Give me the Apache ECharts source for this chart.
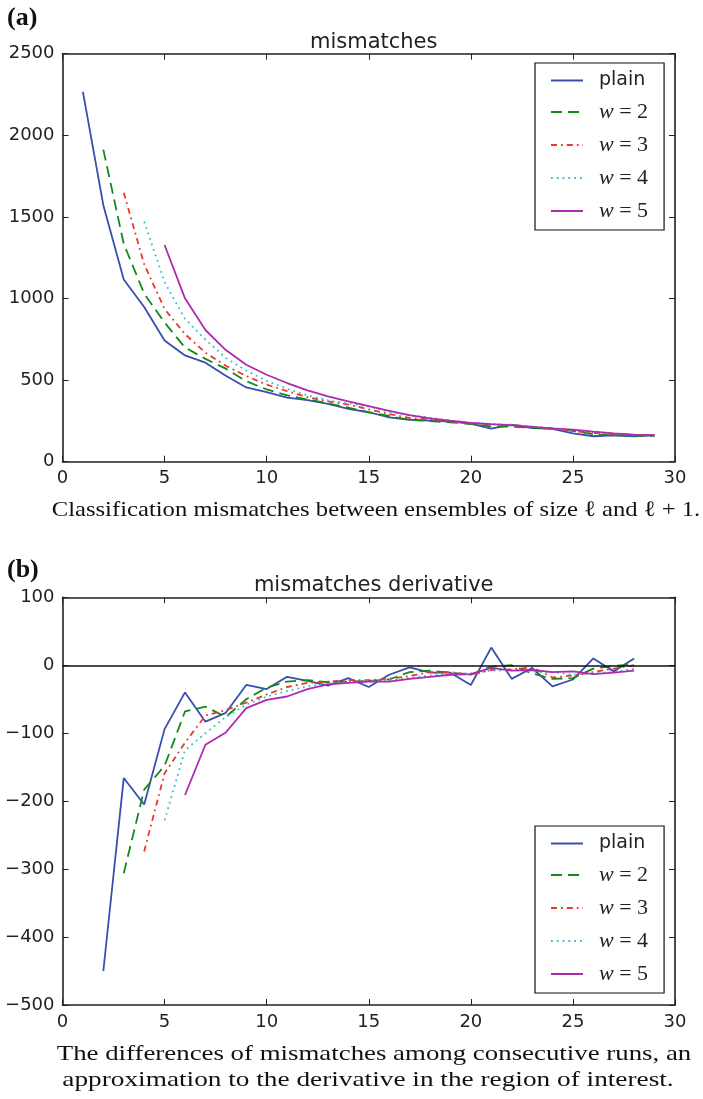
<!DOCTYPE html>
<html><head><meta charset="utf-8">
<script src="https://cdn.jsdelivr.net/npm/echarts@6/dist/echarts.min.js"></script>
<style>html,body{margin:0;padding:0;background:#fff}#c{width:703px;height:1099px}</style>
</head><body><div id="c"></div>
<script>
// ---- data ----
const seriesNames = ['plain', 'w=2', 'w=3', 'w=4', 'w=5'];
const xTicks = [0, 5, 10, 15, 20, 25, 30];

// (a) mismatches, first x of each series
const mismatchStart = [1, 2, 3, 4, 5];
const mismatchPlain = [2266, 1572, 1116, 948, 743, 651, 607, 527, 455, 427, 393, 377, 354, 324, 303, 272, 257, 252, 245, 234, 202, 227, 206, 201, 174, 156, 162, 156, 162];
const mismatchW2 = [1912, 1335, 1030, 852, 700, 630, 570, 493, 443, 407, 381, 358, 331, 303, 280, 256, 249, 241, 231, 216, 215, 208, 203, 189, 168, 162, 159, 159];
const mismatchW3 = [1648, 1210, 935, 782, 668, 588, 525, 472, 432, 396, 370, 350, 321, 292, 268, 260, 247, 235, 229, 225, 215, 202, 188, 176, 168, 164, 162];
const mismatchW4 = [1471, 1100, 875, 748, 636, 558, 495, 447, 407, 376, 357, 338, 306, 284, 270, 251, 239, 231, 225, 215, 202, 194, 182, 172, 164, 162];
const mismatchW5 = [1328, 1001, 807, 684, 594, 533, 482, 437, 400, 370, 341, 312, 286, 266, 251, 238, 230, 223, 214, 204, 196, 184, 174, 166, 162];

// (b) derivative, first x of each series
const derivStart = [2, 3, 4, 5, 6];
const derivPlain = [-450, -166, -205, -94, -40, -83, -70, -29, -35, -17, -23, -30, -19, -32, -14, -3, -11, -11, -29, 26, -20, -4, -31, -21, 10, -9, 10];
const derivW2 = [-306, -183, -148, -68, -61, -76, -50, -33, -24, -22, -25, -24, -23, -21, -10, -8, -11, -14, -2, 0, -12, -20, -19, -5, -1, 1];
const derivW3 = [-274, -159, -114, -74, -66, -55, -43, -32, -26, -24, -22, -22, -20, -16, -10, -10, -14, -7, -6, -3, -18, -15, -10, -5, 0];
const derivW4 = [-228, -125, -100, -76, -58, -46, -38, -31, -27, -24, -23, -22, -19, -15, -12, -12, -8, -7, -9, -10, -14, -12, -10, -5];
const derivW5 = [-191, -117, -99, -63, -51, -46, -35, -28, -26, -24, -24, -20, -17, -14, -13, -4, -8, -7, -10, -9, -13, -11, -8];

// ---- styles ----
const colors = ['#3a4db0', '#118a1a', '#e8382e', '#2ec4c8', '#ae2aae'];
const dashes = ['solid', [11, 6], [6, 4, 1.8, 4], [1.8, 4], 'solid'];
const INK = '#222';
const SANS = 'DejaVu Sans';
const SERIF = 'Liberation Serif';

function pairs(start, vals) { return vals.map((v, i) => [start + i, v]); }

const mism = [mismatchPlain, mismatchW2, mismatchW3, mismatchW4, mismatchW5];
const der = [derivPlain, derivW2, derivW3, derivW4, derivW5];

const grids = [
  { left: 62.5, top: 53.7, width: 612.5, height: 408 },
  { left: 62.5, top: 597.3, width: 612.5, height: 407.7 }
];

function minusFmt(v) { return String(v).replace('-', '\u2212'); }

function xAx(gi, pos, showLabel) {
  return {
    type: 'value', gridIndex: gi, position: pos, min: 0, max: 30, interval: 5,
    axisLine: { show: true, onZero: false, lineStyle: { color: INK, width: 1.6 } },
    axisTick: { show: true, inside: true, length: 6, lineStyle: { color: INK, width: 1 } },
    axisLabel: { show: showLabel, fontFamily: SANS, fontSize: 18, color: INK, margin: 8 },
    splitLine: { show: false }
  };
}
function yAx(gi, pos, min, max, itv, showLabel) {
  return {
    type: 'value', gridIndex: gi, position: pos, min: min, max: max, interval: itv,
    axisLine: { show: true, onZero: false, lineStyle: { color: INK, width: 1.6 } },
    axisTick: { show: true, inside: true, length: 6, lineStyle: { color: INK, width: 1 } },
    axisLabel: { show: showLabel, fontFamily: SANS, fontSize: 18, color: INK, margin: 8, formatter: minusFmt },
    splitLine: { show: false }
  };
}

const series = [];
for (let k = 0; k < 5; k++) {
  series.push({
    name: seriesNames[k], type: 'line', xAxisIndex: 0, yAxisIndex: 0,
    data: pairs(mismatchStart[k], mism[k]), symbol: 'none', showSymbol: false,
    lineStyle: { color: colors[k], width: 1.8, type: dashes[k] }, itemStyle: { color: colors[k] },
    animation: false, z: 2 + k
  });
}
for (let k = 0; k < 5; k++) {
  const s = {
    name: seriesNames[k], type: 'line', xAxisIndex: 2, yAxisIndex: 2,
    data: pairs(derivStart[k], der[k]), symbol: 'none', showSymbol: false,
    lineStyle: { color: colors[k], width: 1.8, type: dashes[k] }, itemStyle: { color: colors[k] },
    animation: false, z: 2 + k
  };
  if (k === 0) {
    s.markLine = { silent: true, symbol: 'none', label: { show: false }, animation: false,
      lineStyle: { color: '#111', width: 1.6, type: 'solid' }, data: [{ yAxis: 0 }] };
  }
  series.push(s);
}

function legendFmt(name) {
  if (name === 'plain') return '{p|plain}';
  const n = name.split('=')[1];
  return '{i|w}{n| = ' + n + '}';
}
function legend(top) {
  return {
    orient: 'vertical', left: 535, top: top, data: seriesNames,
    backgroundColor: '#fff', borderColor: '#111', borderWidth: 1.2, borderRadius: 0,
    padding: [8, 16, 8, 15], itemWidth: 32, itemHeight: 14, itemGap: 11,
    itemStyle: { color: 'rgba(0,0,0,0)', borderWidth: 0, opacity: 0 },
    formatter: legendFmt,
    selectedMode: false,
    textStyle: {
      color: INK, padding: [0, 0, 0, 11],
      rich: {
        p: { fontFamily: SANS, fontSize: 19, color: INK, lineHeight: 21 },
        i: { fontFamily: SERIF, fontStyle: 'italic', fontSize: 22, color: INK, lineHeight: 21 },
        n: { fontFamily: SERIF, fontSize: 22, color: INK, lineHeight: 21 }
      }
    }
  };
}

const capFont = '22px "Liberation Serif"';
const option = {
  animation: false,
  backgroundColor: '#fff',
  title: [
    { text: 'mismatches', left: 368.7, textAlign: 'center', top: 27,
      textStyle: { fontFamily: SANS, fontSize: 21, fontWeight: 'normal', color: INK } },
    { text: 'mismatches derivative', left: 368.7, textAlign: 'center', top: 570,
      textStyle: { fontFamily: SANS, fontSize: 21, fontWeight: 'normal', color: INK } }
  ],
  grid: grids,
  xAxis: [xAx(0, 'bottom', true), xAx(0, 'top', false), xAx(1, 'bottom', true), xAx(1, 'top', false)],
  yAxis: [yAx(0, 'left', 0, 2500, 500, true), yAx(0, 'right', 0, 2500, 500, false),
          yAx(1, 'left', -500, 100, 100, true), yAx(1, 'right', -500, 100, 100, false)],
  legend: [legend(63), legend(826)],
  series: series,
  graphic: [
    { type: 'text', left: 7, top: 5, style: { text: '(a)', font: 'bold 26px "Liberation Serif"', fill: '#111' } },
    { type: 'text', left: 7, top: 557, style: { text: '(b)', font: 'bold 26px "Liberation Serif"', fill: '#111' } },
    { type: 'text', x: 376, y: 510, scaleX: 1.12, style: { text: 'Classification mismatches between ensembles of size \u2113 and \u2113 + 1.', font: capFont, fill: '#111', textAlign: 'center', textVerticalAlign: 'middle' } },
    { type: 'text', x: 374, y: 1054, scaleX: 1.22, style: { text: 'The differences of mismatches among consecutive runs, an', font: capFont, fill: '#111', textAlign: 'center', textVerticalAlign: 'middle' } },
    { type: 'text', x: 368, y: 1080, scaleX: 1.24, style: { text: 'approximation to the derivative in the region of interest.', font: capFont, fill: '#111', textAlign: 'center', textVerticalAlign: 'middle' } }
  ]
};
const chart = echarts.init(document.getElementById('c'), null, { renderer: 'canvas' });
chart.setOption(option);
</script></body></html>
